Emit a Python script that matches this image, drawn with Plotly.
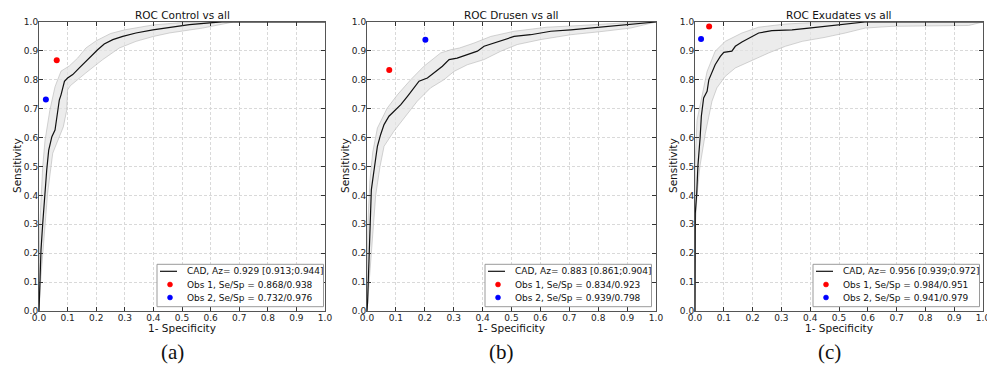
import plotly.graph_objects as go

# ---------------- data ----------------
panel_titles = ["ROC Control vs all", "ROC Drusen vs all", "ROC Exudates vs all"]
panel_tags = ["(a)", "(b)", "(c)"]
cad_labels = ["CAD, Az= 0.929 [0.913;0.944]",
              "CAD, Az= 0.883 [0.861;0.904]",
              "CAD, Az= 0.956 [0.939;0.972]"]
obs1_labels = ["Obs 1, Se/Sp = 0.868/0.938",
               "Obs 1, Se/Sp = 0.834/0.923",
               "Obs 1, Se/Sp = 0.984/0.951"]
obs2_labels = ["Obs 2, Se/Sp = 0.732/0.976",
               "Obs 2, Se/Sp = 0.939/0.798",
               "Obs 2, Se/Sp = 0.941/0.979"]

# observer operating points: sensitivity, specificity
obs1_se = [0.868, 0.834, 0.984]
obs1_sp = [0.938, 0.923, 0.951]
obs2_se = [0.732, 0.939, 0.941]
obs2_sp = [0.976, 0.798, 0.979]

# (a) Control
a_fpr = [0, 0.001, 0.0035, 0.007, 0.013, 0.019, 0.027, 0.034, 0.045, 0.056, 0.062, 0.071, 0.077,
         0.089, 0.10, 0.118, 0.141, 0.164, 0.188, 0.205, 0.228, 0.258, 0.293, 0.339, 0.398,
         0.456, 0.526, 0.607, 0.64, 1.0]
a_tpr = [0, 0.038, 0.136, 0.211, 0.303, 0.395, 0.488, 0.557, 0.603, 0.626, 0.672, 0.73, 0.748,
         0.795, 0.806, 0.818, 0.841, 0.864, 0.887, 0.904, 0.924, 0.939, 0.95, 0.962, 0.973,
         0.982, 0.991, 0.998, 1.0, 1.0]
a_up_fpr = [0, 0.003, 0.013, 0.021, 0.038, 0.056, 0.077, 0.106, 0.135, 0.164, 0.2, 0.25, 0.3,
            0.4, 0.5, 0.6, 1.0]
a_up_tpr = [0.03, 0.3, 0.5, 0.59, 0.695, 0.776, 0.83, 0.848, 0.875, 0.91, 0.935, 0.96, 0.973,
            0.99, 0.998, 1.0, 1.0]
a_lo_fpr = [0, 0.007, 0.018, 0.03, 0.048, 0.071, 0.085, 0.097, 0.10, 0.11, 0.164, 0.223, 0.281,
            0.339, 0.4, 0.456, 0.572, 0.68, 1.0]
a_lo_tpr = [0, 0.12, 0.26, 0.407, 0.546, 0.603, 0.637, 0.695, 0.765, 0.78, 0.824, 0.87, 0.91,
            0.933, 0.95, 0.962, 0.979, 1.0, 1.0]

# (b) Drusen
b_fpr = [0, 0.002, 0.005, 0.008, 0.012, 0.015, 0.022, 0.03, 0.036, 0.047, 0.059, 0.076, 0.093,
         0.117, 0.14, 0.163, 0.18, 0.209, 0.232, 0.261, 0.284, 0.312, 0.347, 0.382, 0.405,
         0.439, 0.474, 0.509, 0.566, 0.636, 0.705, 0.797, 0.889, 0.958, 1.0]
b_tpr = [0, 0.03, 0.12, 0.24, 0.36, 0.419, 0.47, 0.522, 0.57, 0.61, 0.645, 0.674, 0.691,
         0.714, 0.743, 0.772, 0.795, 0.806, 0.824, 0.847, 0.87, 0.875, 0.887, 0.899, 0.916,
         0.927, 0.939, 0.95, 0.956, 0.968, 0.973, 0.982, 0.991, 0.998, 1.0]
b_up_fpr = [0, 0.003, 0.01, 0.02, 0.036, 0.07, 0.105, 0.151, 0.197, 0.255, 0.29, 0.32, 0.37,
            0.428, 0.509, 0.623, 0.74, 0.89, 1.0]
b_up_tpr = [0.05, 0.3, 0.45, 0.55, 0.633, 0.702, 0.748, 0.8, 0.847, 0.893, 0.904, 0.91, 0.927,
            0.95, 0.968, 0.982, 0.988, 0.997, 1.0]
b_lo_fpr = [0, 0.008, 0.015, 0.023, 0.03, 0.045, 0.059, 0.093, 0.128, 0.174, 0.22, 0.266, 0.301,
            0.347, 0.405, 0.463, 0.52, 0.6, 0.705, 0.82, 0.912, 1.0]
b_lo_tpr = [0, 0.1, 0.2, 0.3, 0.4, 0.5, 0.57, 0.622, 0.668, 0.726, 0.772, 0.8, 0.829,
            0.852, 0.87, 0.899, 0.922, 0.939, 0.956, 0.968, 0.979, 1.0]

# (c) Exudates
c_fpr = [0, 0, 0.001, 0.006, 0.01, 0.018, 0.022, 0.03, 0.042, 0.048, 0.059, 0.07, 0.088, 0.10,
         0.128, 0.14, 0.163, 0.192, 0.221, 0.267, 0.337, 0.395, 0.487, 0.568, 0.59, 1.0]
c_tpr = [0, 0.3, 0.338, 0.407, 0.5, 0.603, 0.674, 0.737, 0.76, 0.8, 0.829, 0.852, 0.881, 0.895,
         0.899, 0.916, 0.931, 0.947, 0.962, 0.97, 0.973, 0.979, 0.988, 0.997, 1.0, 1.0]
c_up_fpr = [0, 0, 0.007, 0.024, 0.042, 0.07, 0.105, 0.163, 0.221, 0.314, 0.395, 0.45, 1.0]
c_up_tpr = [0, 0.5, 0.66, 0.737, 0.829, 0.899, 0.933, 0.962, 0.982, 0.993, 0.998, 1.0, 1.0]
c_lo_fpr = [0, 0, 0.007, 0.017, 0.036, 0.048, 0.059, 0.076, 0.105, 0.14, 0.192, 0.256, 0.314,
            0.372, 0.452, 0.522, 0.591, 0.684, 0.95, 1.0]
c_lo_tpr = [0, 0.28, 0.4, 0.5, 0.615, 0.674, 0.726, 0.772, 0.812, 0.841, 0.864, 0.893, 0.916,
            0.933, 0.947, 0.962, 0.979, 0.985, 0.988, 1.0]

axis_ticks = [0.0, 0.1, 0.2, 0.3, 0.4, 0.5, 0.6, 0.7, 0.8, 0.9, 1.0]
tick_text = ["0.0", "0.1", "0.2", "0.3", "0.4", "0.5", "0.6", "0.7", "0.8", "0.9", "1.0"]

curves = [(a_fpr, a_tpr), (b_fpr, b_tpr), (c_fpr, c_tpr)]
uppers = [(a_up_fpr, a_up_tpr), (b_up_fpr, b_up_tpr), (c_up_fpr, c_up_tpr)]
lowers = [(a_lo_fpr, a_lo_tpr), (b_lo_fpr, b_lo_tpr), (c_lo_fpr, c_lo_tpr)]

# ---------------- layout geometry (pixels) ----------------
W, H = 987, 372
x_dom_px = [(39, 325), (367, 656), (695, 983)]
y_dom_px = (22, 311)
legend_left_px = [157, 485, 813]
legend_box_w, legend_top, legend_bottom = 166.5, 264.3, 306.7
legend_rows = [271.3, 284.5, 297.5]
ylabel_x_px = [17, 345, 673]
tag_x_px = [172, 501, 829]

FONT = "DejaVu Sans"
RED, BLUE = "#ff0000", "#0000ff"


def px(x):
    return x / W


def py(y):
    return 1 - y / H


fig = go.Figure()

for i in range(3):
    sfx = "" if i == 0 else str(i + 1)
    xa, ya = "x" + sfx, "y" + sfx
    ux, uy = uppers[i]
    lx, ly = lowers[i]
    # confidence band
    fig.add_trace(go.Scatter(
        x=list(ux) + list(lx)[::-1], y=list(uy) + list(ly)[::-1],
        mode="lines", fill="toself", fillcolor="rgba(228,228,228,0.7)",
        line=dict(color="rgba(175,175,175,0.9)", width=0.6),
        hoverinfo="skip", showlegend=False, xaxis=xa, yaxis=ya))
    # CAD ROC curve
    fx, fy = curves[i]
    fig.add_trace(go.Scatter(
        x=fx, y=fy, mode="lines", name=cad_labels[i], showlegend=False,
        line=dict(color="#111111", width=1.2), xaxis=xa, yaxis=ya))
    # observers
    fig.add_trace(go.Scatter(
        x=[1 - obs1_sp[i]], y=[obs1_se[i]], mode="markers", name=obs1_labels[i], showlegend=False,
        marker=dict(color=RED, size=6), xaxis=xa, yaxis=ya))
    fig.add_trace(go.Scatter(
        x=[1 - obs2_sp[i]], y=[obs2_se[i]], mode="markers", name=obs2_labels[i], showlegend=False,
        marker=dict(color=BLUE, size=6), xaxis=xa, yaxis=ya))

axis_common = dict(
    range=[0, 1], tickvals=axis_ticks, ticktext=tick_text, automargin=False,
    showline=True, linecolor="#555555", linewidth=1, mirror="allticks",
    ticks="inside", ticklen=4, tickcolor="#333333",
    showgrid=True, gridcolor="#d9d9d9", griddash="3px,2px", gridwidth=1,
    zeroline=False, tickfont=dict(family=FONT, size=9, color="#222222"),
    fixedrange=True, ticklabelstandoff=-2, ticklabeloverflow="allow",
)

layout = dict(
    width=W, height=H, margin=dict(l=0, r=0, t=0, b=0, autoexpand=False),
    paper_bgcolor="white", plot_bgcolor="white",
    font=dict(family=FONT, color="#111111"),
    showlegend=False,
)

annotations = []
shapes = []
for i in range(3):
    sfx = "" if i == 0 else str(i + 1)
    x0, x1 = x_dom_px[i]
    layout["xaxis" + sfx] = dict(axis_common, domain=[px(x0), px(x1)], anchor="y" + sfx)
    layout["yaxis" + sfx] = dict(axis_common, domain=[py(y_dom_px[1]), py(y_dom_px[0])],
                                 anchor="x" + sfx)
    xc = px((x0 + x1) / 2)
    annotations.append(dict(text=panel_titles[i], x=xc, y=py(15.5), xref="paper", yref="paper",
                            showarrow=False, xanchor="center", yanchor="middle",
                            font=dict(family=FONT, size=10.5, color="#111111")))
    annotations.append(dict(text="1- Specificity", x=xc, y=py(327.5), xref="paper", yref="paper",
                            showarrow=False, xanchor="center", yanchor="middle",
                            font=dict(family=FONT, size=10.5, color="#111111")))
    annotations.append(dict(text="Sensitivity", x=px(ylabel_x_px[i]), y=py(166),
                            xref="paper", yref="paper", showarrow=False, textangle=-90,
                            xanchor="center", yanchor="middle",
                            font=dict(family=FONT, size=10.5, color="#111111")))
    annotations.append(dict(text=panel_tags[i], x=px(tag_x_px[i]), y=py(352),
                            xref="paper", yref="paper", showarrow=False,
                            xanchor="center", yanchor="middle",
                            font=dict(family="Liberation Serif", size=21, color="#111111")))

    # legend box (matplotlib-style, drawn in paper space)
    L = legend_left_px[i]
    shapes.append(dict(type="rect", xref="paper", yref="paper",
                       x0=px(L), x1=px(L + legend_box_w), y0=py(legend_bottom), y1=py(legend_top),
                       fillcolor="white", line=dict(color="#9a9a9a", width=1), layer="above"))
    shapes.append(dict(type="line", xref="paper", yref="paper",
                       x0=px(L + 3), x1=px(L + 20), y0=py(legend_rows[0]), y1=py(legend_rows[0]),
                       line=dict(color="#111111", width=1.2), layer="above"))
    for r, col in ((1, RED), (2, BLUE)):
        cy = legend_rows[r]
        shapes.append(dict(type="circle", xref="paper", yref="paper",
                           x0=px(L + 10.5), x1=px(L + 15.5), y0=py(cy + 2.5), y1=py(cy - 2.5),
                           fillcolor=col, line=dict(color=col, width=0.5), layer="above"))
    for r, txt in enumerate((cad_labels[i], obs1_labels[i], obs2_labels[i])):
        annotations.append(dict(text=txt, x=px(L + 28), y=py(legend_rows[r]),
                                xref="paper", yref="paper", showarrow=False,
                                xanchor="left", yanchor="middle",
                                font=dict(family=FONT, size=9, color="#111111")))

layout["annotations"] = annotations
layout["shapes"] = shapes

fig.update_layout(**layout)
fig.write_html("out.html", config={"displayModeBar": False},
               post_script="document.body.style.margin='0px';document.body.style.overflow='hidden';")
